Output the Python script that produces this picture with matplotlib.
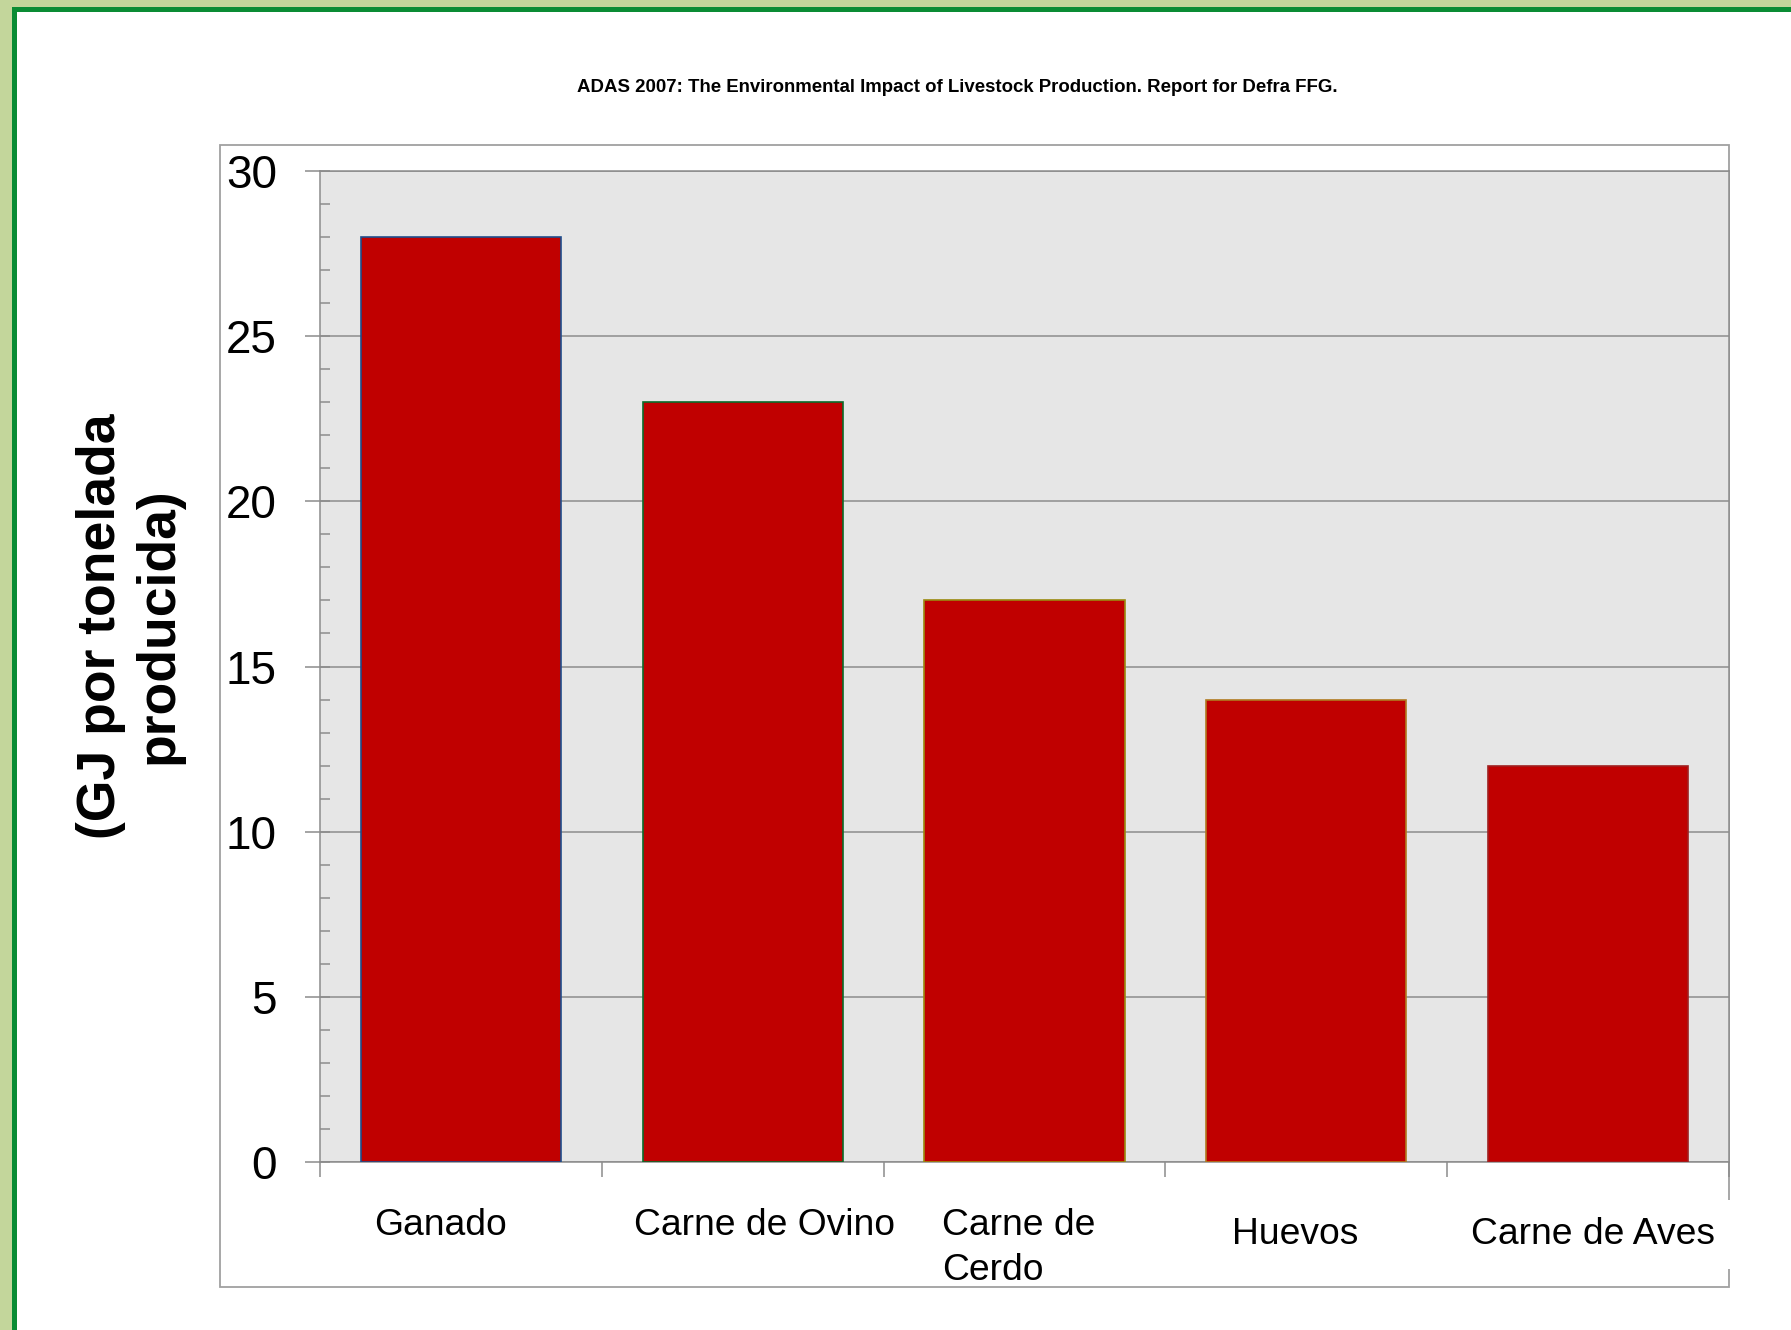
import matplotlib
matplotlib.use("Agg")
import matplotlib.pyplot as plt
from matplotlib.patches import Rectangle
from matplotlib.ticker import MultipleLocator, FixedLocator
from matplotlib.transforms import blended_transform_factory

plt.rcParams['font.family'] = ['Liberation Sans', 'DejaVu Sans']

categories = ["Ganado", "Carne de Ovino", "Carne de\nCerdo", "Huevos", "Carne de Aves"]
values = [28, 23, 17, 14, 12]
edge_colors = ["#1F4E8C", "#0B6B2A", "#9A8A10", "#B07A20", "#A02020"]
yticks = [0, 5, 10, 15, 20, 25, 30]
title = "ADAS 2007: The Environmental Impact of Livestock Production. Report for Defra FFG."
ylabel = "(GJ por tonelada\nproducida)"

W, H = 1791, 1330
fig = plt.figure(figsize=(W / 100, H / 100), dpi=100, facecolor="#C3D69B")

def fx(px):
    return px / W

def fy(py):
    return 1 - py / H

# green frame and white page
fig.patches.append(Rectangle((fx(12), 0), 1, fy(7), transform=fig.transFigure,
                             facecolor="#0A8C34", edgecolor="none", zorder=-3))
fig.patches.append(Rectangle((fx(17), 0), 1, fy(12), transform=fig.transFigure,
                             facecolor="white", edgecolor="none", zorder=-2))
# chart area box
fig.patches.append(Rectangle((fx(220), fy(1287)), fx(1729) - fx(220), fy(145) - fy(1287),
                             transform=fig.transFigure, facecolor="white",
                             edgecolor="#A0A0A0", linewidth=1.3, zorder=-1))

ax = fig.add_axes([fx(320), fy(1162), fx(1729) - fx(320), fy(171) - fy(1162)])
ax.set_zorder(0)
ax.set_facecolor("#E6E6E6")

x = list(range(len(values)))
ax.bar(x, values, width=0.71, color="#C00000", edgecolor=edge_colors, linewidth=1.2, zorder=3)

ax.set_xlim(-0.5, len(values) - 0.5)
ax.set_ylim(0, 30)
ax.set_yticks(yticks)
ax.yaxis.set_minor_locator(MultipleLocator(1))
ax.yaxis.remove_overlapping_locs = False
ax.yaxis.grid(True, color="#8C8C8C", linewidth=1.1, zorder=1)
ax.set_axisbelow(True)

ax.xaxis.set_major_locator(FixedLocator([i - 0.5 for i in range(len(values) + 1)]))
ax.xaxis.set_major_formatter(plt.NullFormatter())

gray = "#8C8C8C"
for s in ax.spines.values():
    s.set_color(gray)
    s.set_linewidth(1.1)

ax.tick_params(axis="y", which="major", direction="out", length=11, width=1.1,
               color=gray, labelsize=33, pad=20)
ax.tick_params(axis="y", which="minor", direction="in", length=7.5, width=1.1, color=gray)
ax.tick_params(axis="x", which="major", direction="out", length=11, width=1.1, color=gray)

# category labels
trans = blended_transform_factory(ax.transData, fig.transFigure)
label_pos = [(-0.074, 1225.5, "center"), (1.078, 1225.5, "center"), (1.706, 1248, "left"),
             (2.96, 1234.5, "center"), (4.018, 1234.5, "center")]
for cat, (lx, ly, ha) in zip(categories, label_pos):
    kw = {}
    if cat == "Carne de Aves":
        kw["bbox"] = dict(boxstyle="square,pad=0.45", facecolor="white", edgecolor="none")
    ax.text(lx, fy(ly), cat, transform=trans, ha=ha, va="center", fontsize=26.8,
            linespacing=1.34, clip_on=False, zorder=5, **kw)

fig.text(fx(957), fy(87), title, ha="center", va="center", fontsize=13.4, fontweight="bold")
fig.text(fx(130), fy(626), ylabel, ha="center", va="center", rotation=90,
         fontsize=38.5, fontweight="bold", multialignment="center")

fig.savefig("out.png", dpi=100, facecolor=fig.get_facecolor())
